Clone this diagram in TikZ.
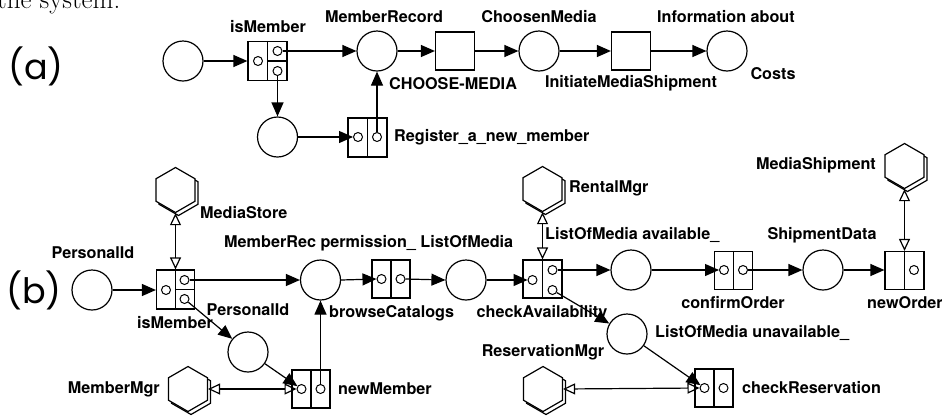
\documentclass[tikz,border=0pt]{standalone}
\usepackage{fontspec}
\newfontfamily\hv{TeX Gyre Heros}
\newfontfamily\labfont{Poppins}
\usetikzlibrary{arrows.meta,shapes.geometric}
\begin{document}
\begin{tikzpicture}[x=1pt,y=-1pt,
  lw/.style={line width=1.2pt},
  place/.style={circle,draw,line width=1.2pt,minimum size=40pt,inner sep=0pt},
  trans/.style={rectangle,draw,line width=1.2pt,minimum width=38pt,minimum height=38pt,inner sep=0pt},
  port/.style={circle,draw,line width=1pt,minimum size=9pt,inner sep=0pt},
  hexa/.style={regular polygon,regular polygon sides=6,shape border rotate=30,minimum size=45pt,inner sep=0pt,draw,fill=white,line width=1.2pt},
  lab/.style={font={\hv\bfseries\fontsize{16.2}{19}\selectfont},inner sep=0pt},
  big/.style={font={\labfont\fontsize{35}{40}\selectfont},inner sep=0pt},
  arr/.style={-{Triangle[length=14pt,width=12pt]},line width=1.2pt},
  bi/.style={{Triangle[open,length=12pt,width=11pt]}-{Triangle[open,length=12pt,width=11pt]},line width=1.2pt}]
\useasboundingbox (0,0) rectangle (942,416);
\node[anchor=base west,font=\fontsize{27}{30}\selectfont,inner sep=0pt] (cap) at (-3,8) {the system.};

% ---------------- (a)
\node[big] (la) at (36,66) {(a)};
\node[place] (p1) at (183,61) {};
\node[trans,minimum width=39pt,minimum height=39pt] (tA) at (267.5,61) {};
\draw[lw] (tA.north) -- (tA.south);
\draw[lw] (tA.center) -- (tA.east);
\node[port] (tAl) at (258,61) {};
\node[port] (tArt) at (277.5,51) {};
\node[port] (tArb) at (277.5,71) {};
\node[place] (pA1) at (377,51) {};
\node[trans,minimum width=39pt] (pA2) at (455,51) {};
\node[place] (pA3) at (539,51) {};
\node[trans,minimum width=39pt] (tA3) at (631,51) {};
\node[place] (pA4) at (727,51) {};
\node[place] (p2) at (277.5,137) {};
\node[trans,minimum width=39pt,minimum height=39pt] (tR) at (367.5,137.5) {};
\draw[lw] (tR.north) -- (tR.south);
\node[port] (tRl) at (358,137) {};
\node[port] (tRr) at (377,137) {};

\draw[arr] (p1) -- (tA.west |- p1);
\draw[arr] (tArt.east) -- (pA1.west);
\draw[arr] (pA1.east) -- (pA2.west);
\draw[arr] (pA2.east) -- (pA3.west);
\draw[arr] (pA3.east) -- (tA3.west);
\draw[arr] (tA3.east) -- (pA4.west);
\draw[arr] (tArb.south) -- (p2.north);
\draw[arr] (p2.east) -- (tRl.west);
\draw[arr] (tRr.north) -- (pA1.south);

\node[lab] (lA1) at (268,27) {isMember};
\node[lab] (lA2) at (384,17) {MemberRecord};
\node[lab] (lA3) at (539,17) {ChoosenMedia};
\node[lab] (lA4) at (726,17) {Information about};
\node[lab] (lA5) at (773,74) {Costs};
\node[lab] (lA6) at (453,84) {CHOOSE-MEDIA};
\node[lab] (lA7) at (631,83) {InitiateMediaShipment};
\node[lab,anchor=west] (lA8) at (394,137) {Register\_a\_new\_member};

% ---------------- (b)
\node[big] (lb) at (34,290) {(b)};
\node[place] (pB1) at (92,290) {};
\node[trans,minimum height=39pt] (tB1) at (175.5,289.5) {};
\draw[lw] (tB1.north) -- (tB1.south);
\draw[lw] (tB1.center) -- (tB1.east);
\node[port] (tB1l) at (166,290) {};
\node[port] (tB1rt) at (184.5,280) {};
\node[port] (tB1rb) at (184.5,299) {};
\node[hexa] (hB1s) at (178.5,193) {};
\node[hexa] (hB1) at (175.5,190) {};
\node[place] (pB2) at (320.5,280) {};
\node[trans] (tB2) at (391,279) {};
\draw[lw] (tB2.north) -- (tB2.south);
\node[port] (tB2l) at (381.5,279) {};
\node[port] (tB2r) at (400.5,279) {};
\node[place] (pB3) at (466,280) {};
\node[trans,minimum width=39pt] (tB3) at (542.5,279) {};
\draw[lw] (tB3.north) -- (tB3.south);
\node[port] (tB3l) at (532.5,280) {};
\node[port] (tB3rt) at (552.5,270) {};
\node[port] (tB3rb) at (552.5,290) {};
\node[hexa] (hB2s) at (545.5,192) {};
\node[hexa] (hB2) at (542.5,189) {};
\node[place] (pB4) at (631,270) {};
\node[trans] (tB4) at (733.5,270.5) {};
\draw[lw] (tB4.north) -- (tB4.south);
\node[port] (tB4l) at (724,270) {};
\node[port] (tB4r) at (743,270) {};
\node[place] (pB5) at (823,270) {};
\node[trans,minimum width=39pt] (tB5) at (904.5,270.5) {};
\draw[lw] (tB5.north) -- (tB5.south);
\node[port] (tB5r) at (914,270) {};
\node[hexa] (hB3s) at (907.5,169) {};
\node[hexa] (hB3) at (904.5,166) {};
\node[place] (pB6) at (248,352) {};
\node[trans] (tB6) at (311,389) {};
\draw[lw] (tB6.north) -- (tB6.south);
\node[port] (tB6l) at (301.5,389) {};
\node[port] (tB6r) at (320.5,389) {};
\node[hexa] (hB4s) at (191,392) {};
\node[hexa] (hB4) at (188,389) {};
\node[place] (pB7) at (627,334) {};
\node[trans] (tB7) at (714,388) {};
\draw[lw] (tB7.north) -- (tB7.south);
\node[port] (tB7l) at (704.5,388) {};
\node[port] (tB7r) at (723.5,388) {};
\node[hexa] (hB5s) at (546,392) {};
\node[hexa] (hB5) at (543,389) {};

\draw[arr] (pB1.east) -- (tB1.west |- pB1);
\draw[bi] (hB1.south) -- (tB1.north);
\draw[arr] (tB1rt.east) -- (pB2.west);
\draw[arr] (pB2.east) -- (tB2l.west);
\draw[arr] (tB2r.east) -- (pB3.west);
\draw[arr] (pB3.east) -- (tB3l.west);
\draw[bi] (hB2.south) -- (tB3.north);
\draw[arr] (tB3rt.east) -- (pB4.west);
\draw[arr] (pB4.east) -- (tB4l.west);
\draw[arr] (tB4r.east) -- (pB5.west);
\draw[arr] (pB5.east) -- (tB5.west |- pB5);
\draw[bi] (hB3.south) -- (tB5.north);
\draw[arr] (tB1rb) -- (pB6);
\draw[arr] (pB6) -- (tB6l);
\draw[arr] (tB6r.north) -- (pB2.south);
\draw[bi] (hB4.east) -- (tB6l.west);
\draw[arr] (tB3rb) -- (pB7);
\draw[arr] (pB7) -- (tB7l);
\draw[bi] (hB5.east) -- (tB7l.west);

\node[lab] (lB1) at (93,253) {PersonalId};
\node[lab,anchor=west] (lB2) at (200,213) {MediaStore};
\node[lab,anchor=west] (lB3) at (224,243) {MemberRec permission\_ ListOfMedia};
\node[lab,anchor=west] (lB5) at (329,313) {browseCatalogs};
\node[lab] (lB6) at (542,313) {checkAvailability};
\node[lab,anchor=west] (lB7) at (569,188) {RentalMgr};
\node[lab,anchor=west] (lB8) at (545,235) {ListOfMedia available\_};
\node[lab] (lB9) at (733,303) {confirmOrder};
\node[lab] (lB10) at (822,235) {ShipmentData};
\node[lab] (lB11) at (905,303) {newOrder};
\node[lab,anchor=east] (lB12) at (876,165) {MediaShipment};
\node[lab] (lB13) at (248,310) {PersonalId};
\node[lab] (lB14) at (175,323) {isMember};
\node[lab,anchor=west] (lB15) at (338,389) {newMember};
\node[lab,anchor=east] (lB16) at (160,389) {MemberMgr};
\node[lab,anchor=west] (lB17) at (655,333) {ListOfMedia unavailable\_};
\node[lab,anchor=west] (lB18) at (742,388) {checkReservation};
\node[lab] (lB19) at (543,352) {ReservationMgr};
\end{tikzpicture}
\end{document}
